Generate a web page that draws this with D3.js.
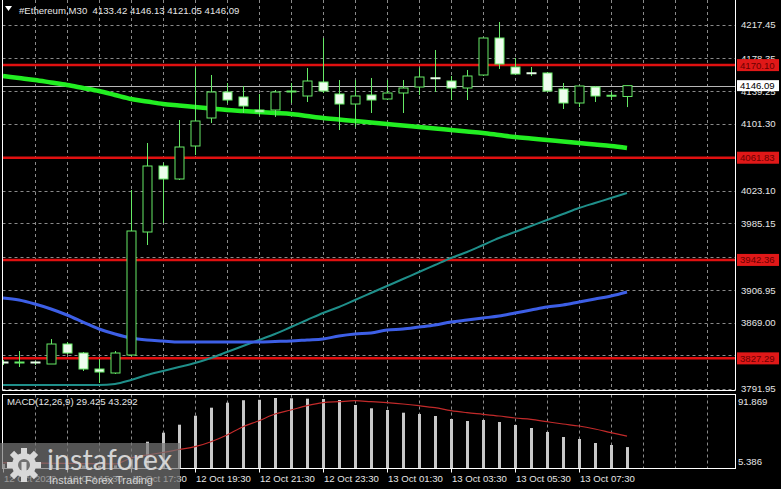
<!DOCTYPE html>
<html><head><meta charset="utf-8">
<script src="https://cdn.jsdelivr.net/npm/d3@7"></script>
<style>html,body{margin:0;padding:0;background:#000;overflow:hidden}svg{display:block}</style>
</head><body>
<svg id="chart" width="781" height="489"></svg>
<script>
const times = ["12 Oct 13:30","12 Oct 14:00","12 Oct 14:30","12 Oct 15:00","12 Oct 15:30","12 Oct 16:00","12 Oct 16:30","12 Oct 17:00","12 Oct 17:30","12 Oct 18:00",
"12 Oct 18:30","12 Oct 19:00","12 Oct 19:30","12 Oct 20:00","12 Oct 20:30","12 Oct 21:00","12 Oct 21:30","12 Oct 22:00","12 Oct 22:30","12 Oct 23:00",
"12 Oct 23:30","13 Oct 00:00","13 Oct 00:30","13 Oct 01:00","13 Oct 01:30","13 Oct 02:00","13 Oct 02:30","13 Oct 03:00","13 Oct 03:30","13 Oct 04:00",
"13 Oct 04:30","13 Oct 05:00","13 Oct 05:30","13 Oct 06:00","13 Oct 06:30","13 Oct 07:00","13 Oct 07:30","13 Oct 08:00","13 Oct 08:30","13 Oct 09:00"];
const open  = [3823.03,3821.86,3823.03,3820.69,3844.07,3833.55,3814.85,3810.17,3831.22,3975.00,4052.16,4036.96,4075.54,4108.27,4138.66,4132.82,4117.62,4117.62,4138.66,4133.99,4150.35,4136.32,4124.63,4135.15,4130.48,4137.49,4144.51,4155.03,4151.52,4143.34,4158.54,4201.79,4167.89,4160.87,4160.87,4142.17,4125.80,4144.51,4133.99,4133.42];
const high  = [3825.37,3835.89,3824.20,3849.93,3846.41,3834.72,3826.54,3835.89,4024.10,4079.04,4055.66,4105.93,4166.72,4158.54,4149.18,4145.68,4136.32,4141.00,4149.18,4166.72,4201.79,4152.69,4152.69,4155.03,4152.69,4152.69,4166.72,4187.76,4157.37,4164.38,4201.79,4220.49,4178.41,4167.89,4162.04,4149.18,4145.68,4145.68,4138.66,4146.13];
const low   = [3819.52,3817.19,3819.52,3820.69,3832.38,3812.51,3798.48,3809.00,3830.05,3959.80,3985.52,4035.79,4065.02,4102.40,4125.80,4114.11,4110.61,4109.44,4125.80,4126.97,4137.49,4094.24,4097.75,4114.11,4129.31,4114.11,4135.15,4138.66,4129.31,4129.31,4157.37,4165.55,4158.54,4157.37,4138.66,4118.79,4121.13,4126.97,4129.31,4121.05];
const close = [3821.86,3823.03,3821.86,3844.07,3833.55,3814.85,3811.34,3833.55,3976.17,4052.16,4036.96,4074.37,4104.76,4138.66,4129.31,4122.30,4115.28,4138.66,4139.83,4151.52,4139.83,4124.63,4133.99,4129.31,4137.49,4143.34,4156.20,4154.45,4143.34,4157.37,4201.79,4171.39,4159.71,4160.29,4139.83,4125.80,4145.68,4133.99,4134.57,4146.09];
const maSlow = [4157.37,4155.03,4152.69,4149.77,4146.85,4143.34,4139.83,4135.15,4130.48,4127.56,4124.63,4122.88,4121.13,4119.37,4117.62,4116.45,4115.28,4114.11,4112.94,4110.61,4108.27,4106.51,4104.76,4103.01,4101.25,4099.50,4097.75,4095.99,4094.24,4092.48,4090.73,4088.40,4086.06,4084.30,4082.55,4080.80,4079.04,4077.29,4075.54,4073.20];
const maMid = [3897.85,3895.51,3890.83,3884.99,3877.97,3869.79,3861.61,3855.76,3851.09,3848.75,3847.58,3846.41,3846.41,3846.41,3846.41,3846.41,3846.41,3847.00,3847.58,3848.75,3849.92,3853.43,3855.76,3856.93,3860.44,3861.61,3863.93,3866.29,3869.79,3872.13,3874.47,3876.81,3880.31,3883.82,3887.33,3889.66,3893.17,3896.68,3900.19,3904.86];
const maFast = [3796.15,3796.15,3796.15,3796.15,3796.15,3796.15,3796.15,3797.31,3801.99,3807.84,3812.51,3817.19,3821.86,3827.71,3834.72,3841.75,3848.75,3855.76,3863.93,3872.13,3880.31,3887.33,3895.51,3903.69,3911.87,3920.06,3928.23,3936.42,3944.61,3951.62,3959.80,3967.99,3975.00,3982.02,3989.03,3996.04,4003.06,4008.90,4014.76,4020.59];
const macdMain = [8.0,7.5,7.0,6.8,6.5,6.0,5.6,6.2,14.0,36.29,47.74,57.91,69.36,79.53,85.89,89.0,89.6,91.869,91.5,91.0,90.6,89.32,82.97,78.77,76.61,73.17,71.52,68.98,65.16,62.62,63.89,61.35,57.53,53.71,48.63,42.27,39.72,34.64,32.09,29.425];
const macdSignal = [9.5,9.3,9.1,8.9,8.7,8.5,8.3,8.1,15.56,19.38,22.56,26.37,29.93,36.29,44.81,55.37,63.0,71.52,76.61,82.08,85.89,87.16,88.43,87.16,85.89,84.24,82.08,79.53,75.72,73.17,71.14,68.98,66.43,64.78,61.73,58.80,56.26,52.44,47.74,43.292];
const priceTicks = [4217.45,4178.35,4139.25,4101.30,4062.20,4023.10,3985.15,3946.05,3906.95,3869.00,3830.90,3791.95];
const priceTickLabels = ["4217.45","4178.35","4139.25","4101.30","","4023.10","3985.15","","3906.95","3869.00","","3791.95"];
const levels = [4170.10,4061.83,3942.36,3827.29];
const levelLabels = ["4170.10","4061.83","3942.36","3827.29"];
const timeTicks = ["12 Oct 13:30","12 Oct 15:30","12 Oct 17:30","12 Oct 19:30","12 Oct 21:30","12 Oct 23:30","13 Oct 01:30","13 Oct 03:30","13 Oct 05:30","13 Oct 07:30"];
const timeTickLabels = ["12 Oct 2022","12 Oct 15:30","12 Oct 17:30","12 Oct 19:30","12 Oct 21:30","12 Oct 23:30","13 Oct 01:30","13 Oct 03:30","13 Oct 05:30","13 Oct 07:30"];
const macdTicks = [91.869,5.386];
const lastPrice = 4146.09;

const svg = d3.select("#chart");
const W = 781, H = 489;
const L = 2.5, R = 735.5, mainTop = 0, mainBot = 390.5, subTop = 394.5, subBot = 468.5;
const FONT = "'Liberation Sans', Arial, sans-serif";
const FS = "9.6px";

const idx = d3.scaleOrdinal().domain(times).range(d3.range(times.length));
const x = d3.scaleLinear().domain([0, 45.75]).range([3, 735]);
const xt = t => x(idx(t));
const y = d3.scaleLinear().domain([3791.95, 4217.45]).range([388.6, 24.6]);
const ym = d3.scaleLinear().domain([5.386, 91.869]).range([466, 398]);

svg.append("rect").attr("width", W).attr("height", H).attr("fill", "#000");

const defs = svg.append("defs");
defs.append("clipPath").attr("id","clipMain").append("rect").attr("x",L).attr("y",mainTop).attr("width",R-L).attr("height",mainBot-mainTop);
defs.append("clipPath").attr("id","clipSub").append("rect").attr("x",L).attr("y",subTop).attr("width",R-L).attr("height",subBot-subTop);

const gridColor = "#8a8a8a";
svg.append("g").selectAll("line").data(priceTicks).join("line")
  .attr("x1", L).attr("x2", R)
  .attr("y1", d => Math.round(y(d)) + 0.5).attr("y2", d => Math.round(y(d)) + 0.5)
  .attr("stroke", gridColor).attr("stroke-width", 1).attr("stroke-dasharray", "3,3");
const vIdx = d3.range(2, 46, 2);
[[mainTop, mainBot],[subTop, subBot]].forEach(([a,b]) => {
  svg.append("g").selectAll("line").data(vIdx).join("line")
    .attr("x1", d => Math.round(x(d)) + 0.5).attr("x2", d => Math.round(x(d)) + 0.5)
    .attr("y1", a).attr("y2", b)
    .attr("stroke", gridColor).attr("stroke-width", 1).attr("stroke-dasharray", "3,3");
});

const gMain = svg.append("g").attr("clip-path","url(#clipMain)");

gMain.selectAll("line.lvl").data(levels).join("line").attr("class","lvl")
  .attr("x1", L).attr("x2", R).attr("y1", d => y(d)).attr("y2", d => y(d))
  .attr("stroke", "#e01010").attr("stroke-width", 2.5);
gMain.append("line").attr("x1", L).attr("x2", R).attr("y1", Math.round(y(lastPrice))+0.5).attr("y2", Math.round(y(lastPrice))+0.5)
  .attr("stroke", "#b8b8b8").attr("stroke-width", 1);

const lineGen = arr => d3.line().x((d,i) => x(i)).y(d => y(d)).curve(d3.curveMonotoneX)(arr);
gMain.append("path").attr("d", lineGen(maFast)).attr("fill","none").attr("stroke","#1f8f8a").attr("stroke-width",2);
gMain.append("path").attr("d", lineGen(maMid)).attr("fill","none").attr("stroke","#3d5fe6").attr("stroke-width",3);
gMain.append("path").attr("d", lineGen(maSlow)).attr("fill","none").attr("stroke","#22ee22").attr("stroke-width",4.5);

const candleColor = "#66ea66";
const cg = gMain.append("g");
times.forEach((t, i) => {
  const cx = Math.round(x(i)) + 0.5;
  const o = open[i], c = close[i], h = high[i], l = low[i];
  const top = y(Math.max(o,c)), bot = y(Math.min(o,c));
  cg.append("line").attr("x1", cx).attr("x2", cx).attr("y1", y(h)).attr("y2", y(l))
    .attr("stroke", candleColor).attr("stroke-width", 1);
  if (bot - top < 1.5) {
    cg.append("line").attr("x1", cx-5).attr("x2", cx+5).attr("y1", (top+bot)/2).attr("y2", (top+bot)/2)
      .attr("stroke", c >= o ? candleColor : "#e8ffe8").attr("stroke-width", 2);
  } else {
    cg.append("rect").attr("x", cx-4.5).attr("y", top).attr("width", 9).attr("height", bot-top)
      .attr("fill", c >= o ? "#000" : "#eefcee").attr("stroke", candleColor).attr("stroke-width", 1);
  }
});

const gSub = svg.append("g").attr("clip-path","url(#clipSub)");
gSub.selectAll("rect.h").data(macdMain).join("rect").attr("class","h")
  .attr("x", (d,i) => Math.round(x(i)) - 1).attr("width", 3)
  .attr("y", d => ym(Math.max(d,0))).attr("height", d => Math.abs(ym(0) - ym(d)))
  .attr("fill", "#c8c8c8");
gSub.append("path").attr("d", d3.line().x((d,i)=>x(i)).y(d=>ym(d)).curve(d3.curveMonotoneX)(macdSignal))
  .attr("fill","none").attr("stroke","#c22a2a").attr("stroke-width",1.2);

const frame = svg.append("g").attr("stroke","#fff").attr("stroke-width",1).attr("fill","none");
frame.append("path").attr("d", `M${L},${mainTop}V${mainBot}H${R}V${mainTop}`);
frame.append("rect").attr("x", L).attr("y", subTop).attr("width", R-L).attr("height", subBot-subTop);

svg.append("g").selectAll("text").data(priceTicks.map((v,i)=>({v, t: priceTickLabels[i]})).filter(d=>d.t)).join("text")
  .attr("x", 741).attr("y", d => y(d.v) + 3.5).text(d => d.t)
  .attr("fill", "#e6e6e6").attr("font-family", FONT).attr("font-size", FS);

const lv = svg.append("g");
levels.forEach((v, i) => {
  lv.append("rect").attr("x", 737).attr("y", y(v) - 6).attr("width", 42).attr("height", 12).attr("fill", "#e01818");
  lv.append("text").attr("x", 740).attr("y", y(v) + 3.5).text(levelLabels[i])
    .attr("fill", "#6a0000").attr("font-family", FONT).attr("font-size", FS);
});
lv.append("rect").attr("x", 737).attr("y", y(lastPrice) - 5.5).attr("width", 42).attr("height", 11).attr("fill", "#fff");
lv.append("text").attr("x", 740).attr("y", y(lastPrice) + 3.5).text(d3.format(".2f")(lastPrice))
  .attr("fill", "#000").attr("font-family", FONT).attr("font-size", FS);

svg.append("g").selectAll("text").data(macdTicks).join("text")
  .attr("x", 738).attr("y", (d,i) => i === 0 ? 405 : 465).text(d => d3.format(".3f")(d))
  .attr("fill", "#e6e6e6").attr("font-family", FONT).attr("font-size", FS);

const tg = svg.append("g");
timeTicks.forEach((t, i) => {
  const tx = Math.round(xt(t)) + 0.5;
  tg.append("line").attr("x1", tx).attr("x2", tx).attr("y1", subBot).attr("y2", subBot + 4).attr("stroke", "#fff");
  tg.append("text").attr("x", tx + 0.5).attr("y", 482).text(timeTickLabels[i])
    .attr("fill", "#e6e6e6").attr("font-family", FONT).attr("font-size", FS);
});

svg.append("path").attr("d", "M5,6 L12,6 L8.5,11 Z").attr("fill", "#fff");
svg.append("text").attr("x", 19).attr("y", 14).text("#Ethereum,M30  4133.42 4146.13 4121.05 4146.09")
  .attr("fill", "#e6e6e6").attr("font-family", FONT).attr("font-size", FS).style("white-space","pre");
svg.append("text").attr("x", 7).attr("y", 405).text("MACD(12,26,9) 29.425 43.292")
  .attr("fill", "#e6e6e6").attr("font-family", FONT).attr("font-size", FS);

const wm = svg.append("g");
wm.append("rect").attr("x", 0).attr("y", 443).attr("width", 180).attr("height", 46).attr("fill", "rgb(120,120,120)").attr("opacity", 0.7);
const gear = wm.append("g").attr("transform", "translate(24,465)").attr("fill", "#d8d8d8");
d3.range(8).forEach(k => {
  gear.append("rect").attr("x", -3).attr("y", -17).attr("width", 6).attr("height", 7).attr("transform", `rotate(${k*45})`);
});
gear.append("circle").attr("r", 12);
gear.append("circle").attr("r", 6).attr("fill", "#707070");
gear.append("rect").attr("x", -2.5).attr("y", -3).attr("width", 5).attr("height", 15).attr("fill", "#d8d8d8");
wm.append("text").attr("x", 47).attr("y", 470).text("instaforex")
  .attr("fill", "#d4d4d4").attr("font-family", "Lato, 'Liberation Sans', sans-serif").attr("font-size", "29px")
  .attr("textLength", 125).attr("lengthAdjust", "spacingAndGlyphs");
wm.append("text").attr("x", 49).attr("y", 484).text("Instant Forex Trading")
  .attr("fill", "#d4d4d4").attr("font-family", FONT).attr("font-size", "11px");
</script>
</body></html>
